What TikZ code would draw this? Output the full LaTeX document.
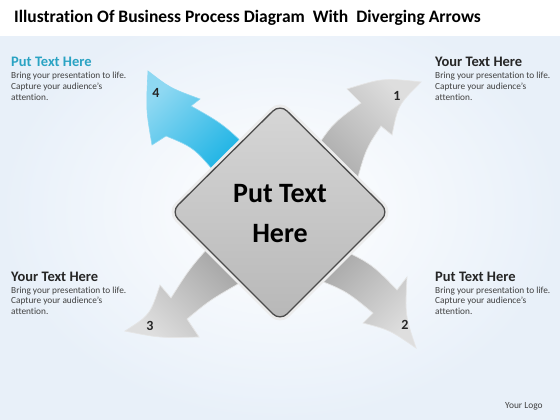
\documentclass[tikz,border=0pt]{standalone}
\usepackage{fontspec}
\setmainfont{Carlito}[Ligatures=NoCommon]
\definecolor{tealhead}{HTML}{2AA3C3}
\definecolor{bgblue}{HTML}{E8F0F9}
\definecolor{bluetip}{HTML}{8ED8F2}
\definecolor{bluemid}{HTML}{18B6E8}
\definecolor{bluebase}{HTML}{06ACE2}
\definecolor{graytip}{HTML}{DEDEDE}
\definecolor{graymid}{HTML}{B6B6B6}
\definecolor{graybase}{HTML}{A2A2A2}
\definecolor{bodytext}{HTML}{404040}
\begin{document}
\begin{tikzpicture}[x=1pt,y=-1pt,
  titletext/.style={anchor=base west,font=\fontsize{17.5}{20}\selectfont\bfseries,text=black,inner sep=0pt},
  headtext/.style={anchor=base west,font=\fontsize{14.5}{17}\selectfont\bfseries,inner sep=0pt},
  bodyblock/.style={anchor=base west,align=left,font=\fontsize{9.3}{10.8}\selectfont,text=bodytext,inner sep=0pt},
  numtext/.style={font=\fontsize{14}{16}\selectfont\bfseries,text=black!85,inner sep=0pt},
  grayarrow/.style={top color=graytip,middle color=graymid,bottom color=graybase,draw=white!80!gray,line width=0.7pt},
  bluearrow/.style={top color=bluetip,middle color=bluemid,bottom color=bluebase,draw=bluetip,line width=0.6pt},
  diamondbox/.style={top color=black!16,middle color=black!37,bottom color=black!28,draw=black!70,line width=1.3pt,rounded corners=10pt}
]
\useasboundingbox (0,0) rectangle (560,420);
% background
\shade[inner color=white,outer color=bgblue] (0,0) rectangle (560,420);
\fill[white] (0,0) rectangle (560,36);
% title
\node[titletext] (title) at (14,23) {Illustration Of Business Process Diagram\ \ With\ \ Diverging Arrows};
% arrow 1 (NE)
\shade[grayarrow,shading angle=-45] (300,175) .. controls (330,125) .. (361,103) -- (347,89) .. controls (383,78) .. (421,82) .. controls (398,105) .. (392,135) -- (381,126) .. controls (365,150) .. (352,200) -- cycle;
% arrow 2 (SE)
\shade[grayarrow,shading angle=-135] (320,240) .. controls (370,262) .. (397,290) -- (407,277) .. controls (405,315) .. (416,348) .. controls (390,330) .. (363,323) -- (373,313) .. controls (345,290) .. (305,275) -- cycle;
% arrow 3 (SW)
\shade[grayarrow,shading angle=135] (215,240) .. controls (190,268) .. (171,298) -- (160,285) .. controls (150,315) .. (125,331) .. controls (160,338) .. (199,337) -- (187,319) .. controls (210,300) .. (245,280) -- cycle;
% arrow 4 (NW, blue)
\shade[bluearrow,shading angle=45] (265,165) .. controls (225,125) .. (191,106) -- (200,99) .. controls (170,88) .. (148,71) .. controls (146,110) .. (152,145) -- (166,136) .. controls (195,148) .. (225,185) -- cycle;
% numbers
\node[numtext] (n1) at (397,96) {1};
\node[numtext] (n2) at (405,325) {2};
\node[numtext] (n3) at (150,326) {3};
\node[numtext] (n4) at (156,93) {4};
% diamond
\draw[white!85!gray,line width=4pt,rounded corners=11pt] (280,102) -- (391,212) -- (280,323) -- (169,212) -- cycle;
\shade[diamondbox] (280,104) -- (389,212) -- (280,321) -- (171,212) -- cycle;
\node[align=center,font=\fontsize{28}{40}\selectfont\bfseries,inner sep=0pt] (center) at (280,214) {Put Text\\Here};
% text blocks
\node[headtext,text=tealhead] (h4) at (11,66.3) {Put Text Here};
\node[bodyblock] (b4) at (11,100.1) {Bring your presentation to life.\\Capture your audience’s\\attention.};
\node[headtext,text=black!85] (h1) at (435,66.3) {Your Text Here};
\node[bodyblock] (b1) at (435,100.1) {Bring your presentation to life.\\Capture your audience’s\\attention.};
\node[headtext,text=black!85] (h3) at (11,281.3) {Your Text Here};
\node[bodyblock] (b3) at (11,314.6) {Bring your presentation to life.\\Capture your audience’s\\attention.};
\node[headtext,text=black!85] (h2) at (435,281.3) {Put Text Here};
\node[bodyblock] (b2) at (435,314.6) {Bring your presentation to life.\\Capture your audience’s\\attention.};
% logo
\node[anchor=base west,font=\fontsize{9.4}{11}\selectfont,text=bodytext,inner sep=0pt] (logo) at (505,408) {Your Logo};
\end{tikzpicture}
\end{document}
